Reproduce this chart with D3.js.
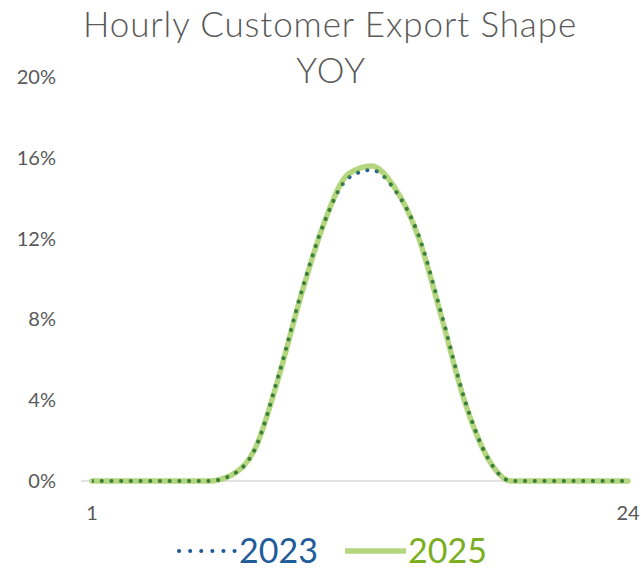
<!DOCTYPE html>
<html>
<head>
<meta charset="utf-8">
<script src="https://cdn.jsdelivr.net/npm/d3@7"></script>
<style>
  body { margin:0; background:#fff; }
  svg text { font-family: Lato, "Open Sans", sans-serif; }
</style>
</head>
<body>
<div id="chart"></div>
<script>
// hourly export shape, share of daily export per hour
var hours = d3.range(1, 25)
var share_2023 = [0,0,0,0,0,0, 0.003,0.016,0.052,0.094,0.129,0.150,0.154,0.144,0.122,0.0825,0.040,0.011, 0,0,0,0,0,0]
var share_2025 = [0,0,0,0,0,0, 0.003,0.016,0.051,0.093,0.129,0.152,0.156,0.145,0.121,0.081,0.039,0.011, 0,0,0,0,0,0]
var y_ticks = [0, 0.04, 0.08, 0.12, 0.16, 0.20]
var x_ticks = [1, 24]
var series_names = ["2023", "2025"]

var W = 641, H = 571
var margin = {top: 77, right: 13, bottom: 90, left: 92}

var svg = d3.select("#chart").append("svg")
    .attr("width", W).attr("height", H)

var x = d3.scaleLinear().domain([1, 24]).range([margin.left, W - margin.right])
var y = d3.scaleLinear().domain([0, 0.20]).range([H - margin.bottom, margin.top])

// title
svg.append("text")
    .attr("x", 330).attr("y", 37)
    .attr("text-anchor", "middle")
    .style("font-size", "35px").style("fill", "#595959")
    .style("font-weight", 300).style("letter-spacing", "0.9px")
    .text("Hourly Customer Export Shape")
svg.append("text")
    .attr("x", 331).attr("y", 83)
    .attr("text-anchor", "middle")
    .style("font-size", "35px").style("fill", "#595959")
    .style("font-weight", 300).style("letter-spacing", "0.9px")
    .text("YOY")

// y labels
svg.selectAll(".ylab").data(y_ticks).join("text")
    .attr("class", "ylab")
    .attr("x", 56).attr("y", d => y(d) + 7)
    .attr("text-anchor", "end")
    .style("font-size", "20px").style("fill", "#595959")
    .text(d => d3.format(".0%")(d))

// zero line
svg.append("line")
    .attr("x1", 81).attr("x2", W - margin.right)
    .attr("y1", y(0)).attr("y2", y(0))
    .attr("stroke", "#d9d9d9").attr("stroke-width", 1.5)

// x labels
svg.selectAll(".xlab").data(x_ticks).join("text")
    .attr("class", "xlab")
    .attr("x", d => x(d)).attr("y", 520)
    .attr("text-anchor", "middle")
    .style("font-size", "20px").style("fill", "#595959")
    .text(d => d)

var line = d3.line()
    .x((d, i) => x(hours[i]))
    .y(d => y(d))
    .curve(d3.curveMonotoneX)

// mask = where the 2025 line is drawn, dots turn dark green there
var defs = svg.append("defs")
defs.append("mask").attr("id", "m25")
    .attr("maskUnits", "userSpaceOnUse")
    .attr("x", 0).attr("y", 0).attr("width", W).attr("height", H)
  .append("path")
    .attr("d", line(share_2025))
    .attr("fill", "none").attr("stroke", "#fff").attr("stroke-width", 5.5)

var dots = "0.1 9.6"

svg.append("path")
    .attr("d", line(share_2023))
    .attr("fill", "none").attr("stroke", "#1f5c99")
    .attr("stroke-width", 4).attr("stroke-linecap", "round")
    .attr("stroke-dasharray", dots)

svg.append("path")
    .attr("d", line(share_2025))
    .attr("fill", "none").attr("stroke", "#b4d67f")
    .attr("stroke-width", 5.5).attr("stroke-linecap", "round")

svg.append("path")
    .attr("d", line(share_2023))
    .attr("fill", "none").attr("stroke", "#3a7f3c")
    .attr("stroke-width", 4).attr("stroke-linecap", "round")
    .attr("stroke-dasharray", dots)
    .attr("mask", "url(#m25)")

// legend
var lg = svg.append("g")
lg.append("line")
    .attr("x1", 179).attr("x2", 235).attr("y1", 551).attr("y2", 551)
    .attr("stroke", "#1f5c99").attr("stroke-width", 4)
    .attr("stroke-linecap", "round").attr("stroke-dasharray", "0.1 11")
lg.append("text")
    .attr("x", 239).attr("y", 563)
    .style("font-size", "34px").style("fill", "#1f5c99")
    .text(series_names[0])
lg.append("line")
    .attr("x1", 345).attr("x2", 406).attr("y1", 551).attr("y2", 551)
    .attr("stroke", "#b4d67f").attr("stroke-width", 5.5)
lg.append("text")
    .attr("x", 408).attr("y", 563)
    .style("font-size", "34px").style("fill", "#7aae1e")
    .text(series_names[1])
</script>
</body>
</html>
